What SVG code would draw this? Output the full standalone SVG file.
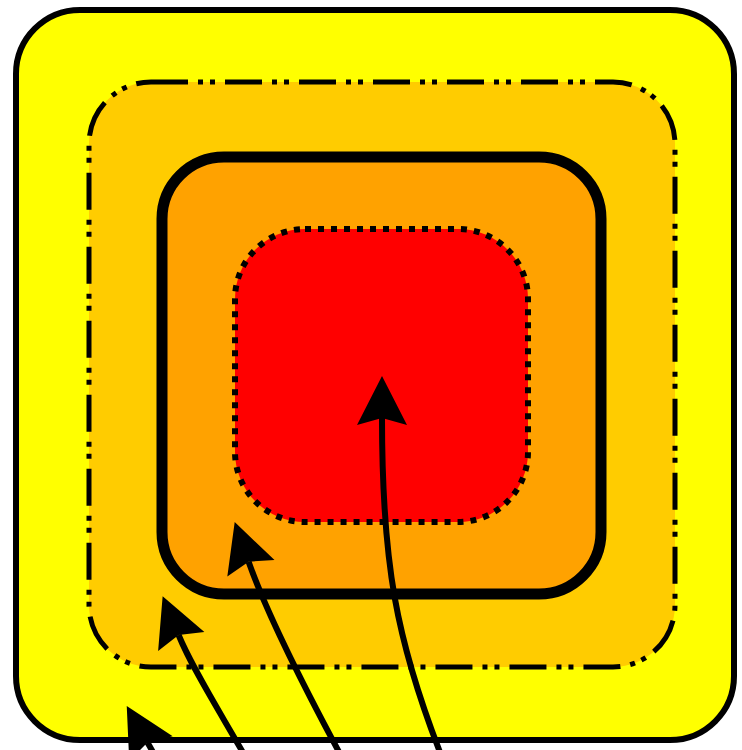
<svg xmlns="http://www.w3.org/2000/svg" width="742" height="750" viewBox="0 0 742 750">
  <defs>
    <marker id="head" markerUnits="userSpaceOnUse" orient="auto" refX="7" refY="0" markerWidth="60" markerHeight="60" overflow="visible">
      <path d="M0,-25 L49,0 L0,25 L7,0 Z" fill="#000"/>
    </marker>
    <style>
      .zone { stroke: #000; stroke-linejoin: round; }
      .conn { fill: none; stroke: #000; stroke-width: 6; marker-end: url(#head); }
    </style>
  </defs>
  <rect x="0" y="0" width="742" height="750" fill="#fff"/>
  <g id="outer">
    <rect class="zone" x="16" y="10" width="718" height="730" rx="64" ry="64" fill="#FFFF00" stroke-width="6"/>
  </g>
  <g id="dashdot">
    <rect class="zone" x="89" y="82" width="586" height="585" rx="62" ry="62" fill="#FFCC00" stroke-width="5" stroke-dasharray="37 10 5 7 5 10"/>
  </g>
  <g id="solid">
    <rect class="zone" x="162" y="157" width="439" height="437" rx="62" ry="62" fill="#FFA200" stroke-width="11"/>
  </g>
  <g id="dotted">
    <rect class="zone" x="235" y="229" width="293" height="293" rx="70" ry="70" fill="#FF0000" stroke-width="6" stroke-dasharray="6 7" stroke-linejoin="miter"/>
  </g>
  <g id="connectors">
    <path class="conn" d="M 445 765 C 395 640, 382 560, 382 418"/>
    <path class="conn" d="M 346 765 C 300 680, 263.5 604.2, 248.6 561.7"/>
    <path class="conn" d="M 250 765 C 225 720, 193.8 672, 178.6 635"/>
    <path class="conn" d="M 162 768 L 147.5 742.5"/>
  </g>
</svg>
